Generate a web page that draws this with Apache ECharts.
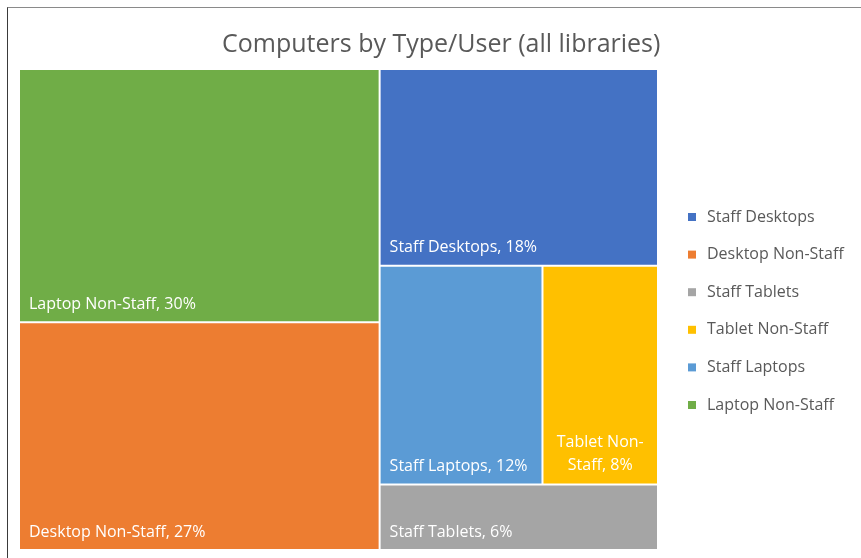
<!DOCTYPE html>
<html>
<head>
<meta charset="utf-8">
<script src="https://cdn.jsdelivr.net/npm/echarts@6/dist/echarts.min.js"></script>
<style>
  html, body { margin: 0; padding: 0; background: #fff; }
  #frame { position: absolute; left: 7px; top: 7px; width: 900px; height: 600px;
           border-left: 1px solid #3a3a3a; border-top: 1px solid #8a8a8a; }
  #chart { position: absolute; left: 0; top: 0; width: 861px; height: 558px; }
</style>
</head>
<body>
<div id="frame"></div>
<div id="chart"></div>
<script>
// 各类电脑占比（%），标签显示取整
const names = ['Laptop Non-Staff', 'Desktop Non-Staff', 'Staff Desktops', 'Staff Laptops', 'Tablet Non-Staff', 'Staff Tablets'];
const values = [30, 27, 18, 11.7, 8.3, 6];
const colors = ['#70AD47', '#ED7D31', '#4472C4', '#5B9BD5', '#FFC000', '#A5A5A5'];
// 图例顺序（与原图一致）
const legendNames = ['Staff Desktops', 'Desktop Non-Staff', 'Staff Tablets', 'Tablet Non-Staff', 'Staff Laptops', 'Laptop Non-Staff'];

const font = 'Open Sans';
const labelText = p => `${p.name}, ${Math.round(p.value)}%`;

const treeData = names.map((n, i) => {
  const item = { name: n, value: values[i], itemStyle: { color: colors[i] } };
  // 窄块：标签换行并居中
  if (n === 'Tablet Non-Staff') {
    item.label = {
      position: 'insideBottom',
      align: 'center',
      formatter: p => labelText(p).replace('Non-', 'Non-\n'),
      lineHeight: 23,
      distance: 1,
    };
  }
  return item;
});

const chart = echarts.init(document.getElementById('chart'));
chart.setOption({
  animation: false,
  title: {
    text: 'Computers by Type/User (all libraries)',
    left: 217,
    top: 27,
    textStyle: { fontFamily: font, fontSize: 25, fontWeight: 'normal', color: '#595959' },
  },
  legend: {
    orient: 'vertical',
    left: 683,
    top: 204,
    itemWidth: 8,
    itemHeight: 8,
    itemGap: 21.6,
    icon: 'rect',
    data: legendNames,
    textStyle: { fontFamily: font, fontSize: 16, color: '#595959', padding: [0, 0, 0, 6] },
  },
  series: [
    {
      // 仅用于生成图例颜色，不绘制
      type: 'pie',
      radius: [0, 0],
      center: [-100, -100],
      silent: true,
      label: { show: false },
      labelLine: { show: false },
      data: names.map((n, i) => ({ name: n, value: values[i], itemStyle: { color: colors[i] } })),
    },
    {
      type: 'treemap',
      left: 20,
      top: 70,
      right: 204,
      bottom: 9,
      roam: false,
      nodeClick: false,
      breadcrumb: { show: false },
      squareRatio: 1,
      levels: [
        { itemStyle: { gapWidth: 2, borderWidth: 0, borderColor: '#fff' } },
      ],
      label: {
        show: true,
        position: 'insideBottomLeft',
        formatter: labelText,
        fontFamily: font,
        fontSize: 16,
        color: '#fff',
        overflow: 'break',
        distance: 4,
      },
      data: treeData,
    },
  ],
});
</script>
</body>
</html>
